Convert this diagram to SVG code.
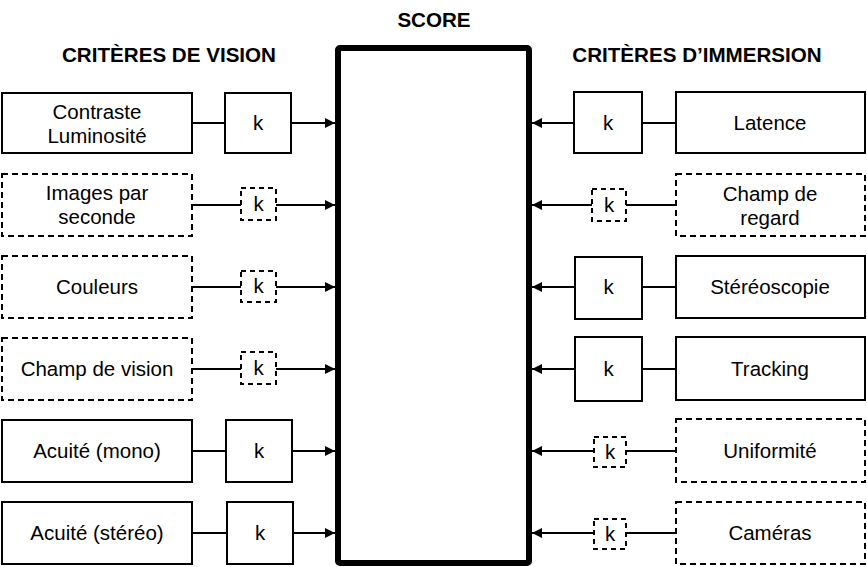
<svg xmlns="http://www.w3.org/2000/svg" width="867" height="567" viewBox="0 0 867 567">
<style>
.box{fill:#fff;stroke:#000;stroke-width:2}
.dash{fill:#fff;stroke:#000;stroke-width:2;stroke-dasharray:6,4}
.dk{fill:#fff;stroke:#000;stroke-width:2;stroke-dasharray:5,4}
.lbl{font-family:"Liberation Sans",Arial,sans-serif;font-size:20.5px;fill:#000;text-anchor:middle}
.hd{font-family:"Liberation Sans",Arial,sans-serif;font-size:20.6px;font-weight:bold;fill:#000;text-anchor:middle}
.ln{stroke:#000;stroke-width:2;fill:none}
</style>
<defs>
<marker id="arr" viewBox="0 0 10 10" refX="10" refY="5" markerWidth="10" markerHeight="10" markerUnits="userSpaceOnUse" orient="auto">
<path d="M0,0 L10,5 L0,10 Z" fill="#000"/>
</marker>
</defs>
<rect width="867" height="567" fill="#fff"/>
<g id="titles">
<text class="hd" x="434" y="27">SCORE</text>
<text class="hd" x="169" y="62">CRITÈRES DE VISION</text>
<text class="hd" x="697" y="62">CRITÈRES D’IMMERSION</text>
</g>
<g id="connectors">
<line class="ln" x1="192" y1="123" x2="225" y2="123"/>
<line class="ln" x1="291" y1="123" x2="335" y2="123" marker-end="url(#arr)"/>
<line class="ln" x1="192" y1="205" x2="241" y2="205"/>
<line class="ln" x1="276" y1="205" x2="335" y2="205" marker-end="url(#arr)"/>
<line class="ln" x1="192" y1="287" x2="241" y2="287"/>
<line class="ln" x1="276" y1="287" x2="335" y2="287" marker-end="url(#arr)"/>
<line class="ln" x1="192" y1="369" x2="241" y2="369"/>
<line class="ln" x1="276" y1="369" x2="335" y2="369" marker-end="url(#arr)"/>
<line class="ln" x1="192" y1="451" x2="226" y2="451"/>
<line class="ln" x1="292" y1="451" x2="335" y2="451" marker-end="url(#arr)"/>
<line class="ln" x1="192" y1="533" x2="227" y2="533"/>
<line class="ln" x1="293" y1="533" x2="335" y2="533" marker-end="url(#arr)"/>
<line class="ln" x1="676" y1="123" x2="642" y2="123"/>
<line class="ln" x1="574" y1="123" x2="532" y2="123" marker-end="url(#arr)"/>
<line class="ln" x1="676" y1="205" x2="626" y2="205"/>
<line class="ln" x1="592" y1="205" x2="532" y2="205" marker-end="url(#arr)"/>
<line class="ln" x1="676" y1="287" x2="642" y2="287"/>
<line class="ln" x1="575" y1="287" x2="532" y2="287" marker-end="url(#arr)"/>
<line class="ln" x1="676" y1="369" x2="642" y2="369"/>
<line class="ln" x1="575" y1="369" x2="532" y2="369" marker-end="url(#arr)"/>
<line class="ln" x1="676" y1="451" x2="626" y2="451"/>
<line class="ln" x1="594" y1="451" x2="532" y2="451" marker-end="url(#arr)"/>
<line class="ln" x1="676" y1="533" x2="626" y2="533"/>
<line class="ln" x1="594" y1="533" x2="532" y2="533" marker-end="url(#arr)"/>
</g>
<g id="score"><rect x="338" y="48" width="191" height="515" rx="2" fill="#fff" stroke="#000" stroke-width="6"/></g>
<g id="contraste"><rect class="box" x="2" y="93" width="190" height="60"/><text class="lbl" x="97" y="119">Contraste</text><text class="lbl" x="97" y="143">Luminosité</text></g>
<g id="k-contraste"><rect class="box" x="225" y="93" width="66" height="60"/><text class="lbl" x="258" y="130">k</text></g>
<g id="images"><rect class="dash" x="2" y="174" width="190" height="62"/><text class="lbl" x="97" y="200">Images par</text><text class="lbl" x="97" y="224">seconde</text></g>
<g id="k-images"><rect class="dk" x="241" y="188" width="35" height="32"/><text class="lbl" x="258.5" y="211">k</text></g>
<g id="couleurs"><rect class="dash" x="2" y="256" width="190" height="62"/><text class="lbl" x="97" y="294">Couleurs</text></g>
<g id="k-couleurs"><rect class="dk" x="241" y="271" width="35" height="31"/><text class="lbl" x="258.5" y="293">k</text></g>
<g id="champvision"><rect class="dash" x="2" y="338" width="190" height="62"/><text class="lbl" x="97" y="376">Champ de vision</text></g>
<g id="k-champvision"><rect class="dk" x="241" y="352" width="35" height="32"/><text class="lbl" x="258.5" y="375">k</text></g>
<g id="acuitemono"><rect class="box" x="2" y="420" width="190" height="62"/><text class="lbl" x="97" y="458">Acuité (mono)</text></g>
<g id="k-acuitemono"><rect class="box" x="226" y="420" width="66" height="62"/><text class="lbl" x="259" y="458">k</text></g>
<g id="acuitestereo"><rect class="box" x="2" y="502" width="190" height="62"/><text class="lbl" x="97" y="540">Acuité (stéréo)</text></g>
<g id="k-acuitestereo"><rect class="box" x="227" y="502" width="66" height="62"/><text class="lbl" x="260" y="540">k</text></g>
<g id="latence"><rect class="box" x="676" y="92" width="189" height="61"/><text class="lbl" x="770" y="130">Latence</text></g>
<g id="k-latence"><rect class="box" x="574" y="92" width="68" height="61"/><text class="lbl" x="608" y="130">k</text></g>
<g id="champregard"><rect class="dash" x="676" y="174" width="189" height="62"/><text class="lbl" x="770" y="201">Champ de</text><text class="lbl" x="770" y="225">regard</text></g>
<g id="k-champregard"><rect class="dk" x="592" y="189" width="34" height="32"/><text class="lbl" x="609" y="212">k</text></g>
<g id="stereoscopie"><rect class="box" x="676" y="256" width="189" height="62"/><text class="lbl" x="770" y="294">Stéréoscopie</text></g>
<g id="k-stereoscopie"><rect class="box" x="575" y="257" width="67" height="62"/><text class="lbl" x="608.5" y="294">k</text></g>
<g id="tracking"><rect class="box" x="676" y="337" width="189" height="63"/><text class="lbl" x="770" y="376">Tracking</text></g>
<g id="k-tracking"><rect class="box" x="575" y="337" width="67" height="64"/><text class="lbl" x="608.5" y="376">k</text></g>
<g id="uniformite"><rect class="dash" x="676" y="419" width="189" height="63"/><text class="lbl" x="770" y="458">Uniformité</text></g>
<g id="k-uniformite"><rect class="dk" x="594" y="437" width="32" height="30"/><text class="lbl" x="610" y="459">k</text></g>
<g id="cameras"><rect class="dash" x="676" y="502" width="189" height="62"/><text class="lbl" x="770" y="540">Caméras</text></g>
<g id="k-cameras"><rect class="dk" x="594" y="519" width="32" height="30"/><text class="lbl" x="610" y="541">k</text></g>
</svg>
